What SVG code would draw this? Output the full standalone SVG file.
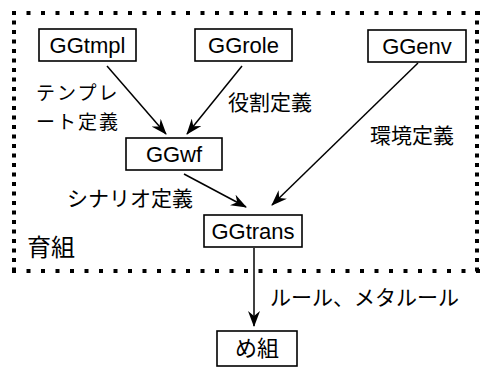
<svg xmlns="http://www.w3.org/2000/svg" width="481" height="368" viewBox="0 0 481 368">
<style>
.box{fill:#fff;stroke:#000;stroke-width:1.6}
.lbl{font-family:"Liberation Sans",Arial,sans-serif;font-size:22px;fill:#000;text-anchor:middle}
.jp{font-family:"Noto Sans CJK JP","Noto Sans CJK SC",sans-serif;font-size:21px;fill:#000}
.edge{fill:none;stroke:#000;stroke-width:1.5}
.dotH{stroke:#000;stroke-width:4;stroke-dasharray:4 10.5;fill:none}
.dotV{stroke:#000;stroke-width:4;stroke-dasharray:4 5.5;fill:none}
</style>
<defs>
<marker id="ah" viewBox="0 0 16 12" refX="15" refY="6" markerWidth="16" markerHeight="12" markerUnits="userSpaceOnUse" orient="auto">
<path d="M0,0 L16,6 L0,12 L5,6 z" fill="#000"/>
</marker>
</defs>
<g id="frame">
<line class="dotH" x1="12" y1="13" x2="480" y2="13"/>
<line class="dotH" x1="12" y1="271" x2="480" y2="271"/>
<line class="dotV" x1="14" y1="11" x2="14" y2="273"/>
<line class="dotV" x1="477" y1="11" x2="477" y2="273"/>
</g>
<g id="connectors">
<line class="edge" x1="107" y1="66" x2="166" y2="134" marker-end="url(#ah)"/>
<line class="edge" x1="242" y1="66" x2="187" y2="134" marker-end="url(#ah)"/>
<line class="edge" x1="418" y1="63" x2="272" y2="205" marker-end="url(#ah)"/>
<line class="edge" x1="184" y1="174" x2="246" y2="207" marker-end="url(#ah)"/>
<line class="edge" x1="254" y1="248" x2="254" y2="326" marker-end="url(#ah)"/>
</g>
<g id="GGtmpl"><rect class="box" x="39" y="29" width="97" height="32"/><text class="lbl" x="87.5" y="53">GGtmpl</text></g>
<g id="GGrole"><rect class="box" x="195" y="29" width="97" height="32"/><text class="lbl" x="243.5" y="53">GGrole</text></g>
<g id="GGenv"><rect class="box" x="368" y="30" width="98" height="32"/><text class="lbl" x="417" y="54">GGenv</text></g>
<g id="GGwf"><rect class="box" x="126" y="138" width="96" height="32"/><text class="lbl" x="174" y="162">GGwf</text></g>
<g id="GGtrans"><rect class="box" x="204" y="215" width="98" height="32"/><text class="lbl" x="253" y="239">GGtrans</text></g>
<g id="megumi"><rect class="box" x="217" y="331" width="80" height="35"/><text class="jp" x="257" y="356" style="font-size:22px;text-anchor:middle">め組</text></g>
<g id="labels">
<text class="jp" x="36" y="100" style="font-size:19px;letter-spacing:2px">テンプレ</text>
<text class="jp" x="36" y="129" style="font-size:19px;letter-spacing:2px">ート定義</text>
<text class="jp" x="228" y="110">役割定義</text>
<text class="jp" x="370" y="143">環境定義</text>
<text class="jp" x="67" y="206">シナリオ定義</text>
<text class="jp" x="27" y="256" style="font-size:24px">育組</text>
<text class="jp" x="270" y="305">ルール、メタルール</text>
</g>
</svg>
